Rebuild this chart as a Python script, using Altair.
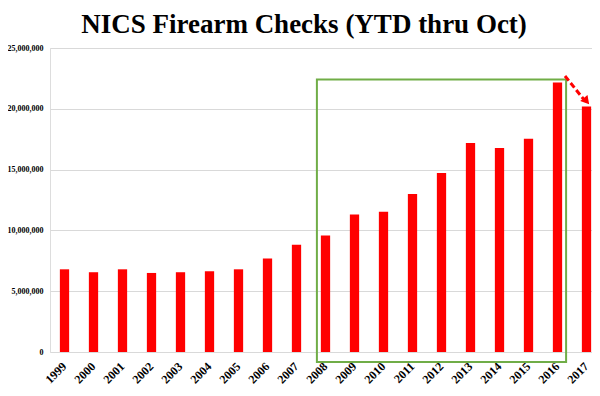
import altair as alt
import pandas as pd

years = [str(y) for y in range(1999, 2018)]
checks = [6.80, 6.56, 6.80, 6.50, 6.56, 6.64, 6.80, 7.68, 8.83, 9.59,
          11.31, 11.53, 13.00, 14.73, 17.19, 16.78, 17.54, 22.16, 20.19]
checks = [round(v * 1_000_000) for v in checks]

y_ticks = [0, 5_000_000, 10_000_000, 15_000_000, 20_000_000, 25_000_000]

# highlight box (2008-2016) and arrow (2016 -> 2017)
box_start, box_end = "2008", "2016"
box_top = 22_400_000
arrow_from, arrow_to = "2016", "2017"
arrow_y_from, arrow_y_to = 22_700_000, 20_800_000

df = pd.DataFrame({"year": years, "checks": checks})

W, H = 542, 304
xscale = alt.Scale(domain=years, range=[0, 551], paddingInner=0.68, paddingOuter=0.34)
yscale = alt.Scale(domain=[0, 25_000_000], nice=False, zero=True)

bars = alt.Chart(df).mark_bar(color="#ff0000").encode(
    x=alt.X("year:N", scale=xscale, sort=years,
            axis=alt.Axis(title=None, labelAngle=315, labelAlign="right",
                          labelBaseline="middle", labelPadding=12, ticks=False,
                          domain=False, grid=False, labelFont="Liberation Serif",
                          labelFontWeight="bold", labelFontSize=12,
                          labelColor="#000000")),
    y=alt.Y("checks:Q", scale=yscale,
            axis=alt.Axis(title=None, values=y_ticks, format=",.0f", ticks=False,
                          domain=False, grid=True, gridColor="#d9d9d9",
                          labelFont="Liberation Serif", labelFontSize=8,
                          labelFontWeight="bold", labelColor="#000000",
                          labelPadding=7)),
)

box_df = pd.DataFrame({"x": [box_start], "x2": [box_end], "y": [box_top], "y2": [0]})
box = alt.Chart(box_df).mark_rect(
    fill=None, stroke="#70ad47", strokeWidth=2, clip=False,
    xOffset=-8.6, x2Offset=8.6, y2Offset=10,
).encode(
    x=alt.X("x:N", scale=xscale, sort=years),
    x2="x2:N",
    y=alt.Y("y:Q", scale=yscale),
    y2="y2:Q",
)

arr_df = pd.DataFrame({"x": [arrow_from], "x2": [arrow_to],
                       "y": [arrow_y_from], "y2": [arrow_y_to]})
arrow_line = alt.Chart(arr_df).mark_rule(
    color="#ff0000", strokeWidth=3, strokeDash=[6, 3], clip=False,
    xOffset=7.5, x2Offset=-3,
).encode(
    x=alt.X("x:N", scale=xscale, sort=years),
    x2="x2:N",
    y=alt.Y("y:Q", scale=yscale),
    y2="y2:Q",
)
head_df = pd.DataFrame({"x": [arrow_to], "y": [arrow_y_to]})
arrow_head = alt.Chart(head_df).mark_point(
    shape="triangle-right", filled=True, color="#ff0000", opacity=1,
    size=90, angle=50, clip=False, xOffset=0, yOffset=2,
).encode(
    x=alt.X("x:N", scale=xscale, sort=years),
    y=alt.Y("y:Q", scale=yscale),
)

chart = alt.layer(bars, box, arrow_line, arrow_head).properties(
    width=W, height=H,
    autosize=alt.AutoSizeParams(type="none"),
    padding={"left": 42, "top": 40, "right": 0, "bottom": 36},
    title=alt.TitleParams(
        "NICS Firearm Checks (YTD thru Oct)", font="Liberation Serif",
        fontSize=27, fontWeight="bold", color="#000000", anchor="middle",
        frame="bounds", offset=5,
    ),
).configure_view(stroke=None).configure(background="#ffffff")

chart.save("out.html", embed_options={"renderer": "svg", "actions": False})
